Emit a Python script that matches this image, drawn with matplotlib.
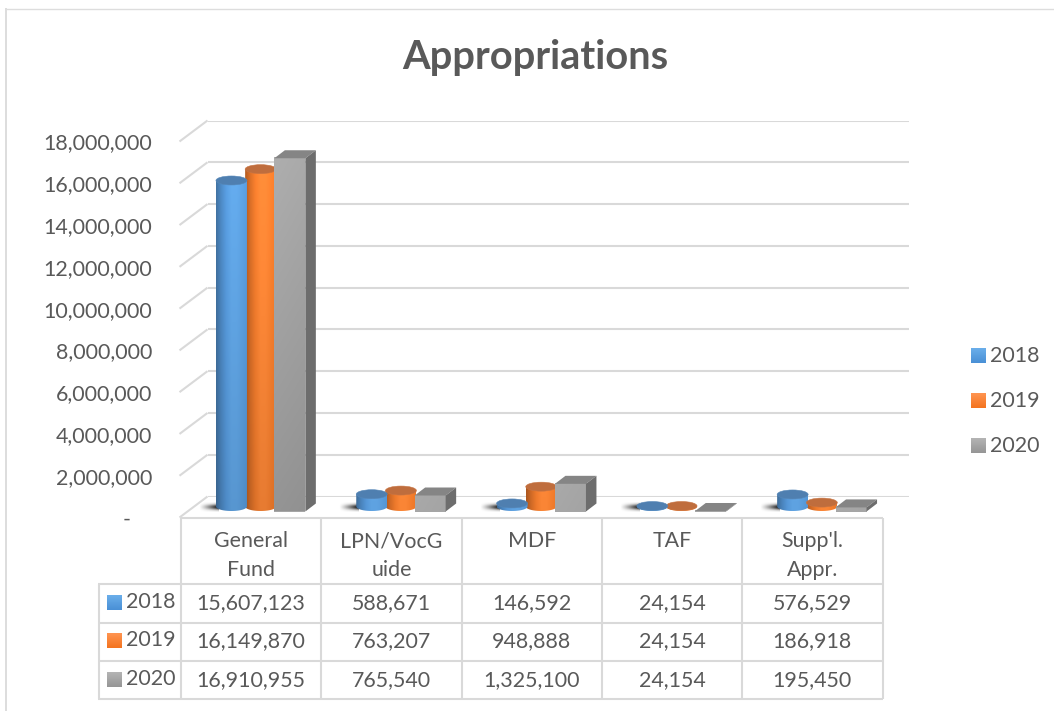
import numpy as np
import matplotlib
matplotlib.use('Agg')
import matplotlib.pyplot as plt
from matplotlib.patches import Ellipse, PathPatch, Polygon
from matplotlib.path import Path

plt.rcParams['font.family'] = ['Lato', 'DejaVu Sans']

# ── Data ──
categories = ['General\nFund', 'LPN/VocG\nuide', 'MDF', 'TAF', "Supp'l.\nAppr."]
years = ['2018', '2019', '2020']
vals_2018 = [15607123, 588671, 146592, 24154, 576529]
vals_2019 = [16149870, 763207, 948888, 24154, 186918]
vals_2020 = [16910955, 765540, 1325100, 24154, 195450]
y_ticks = [0, 2000000, 4000000, 6000000, 8000000, 10000000,
           12000000, 14000000, 16000000, 18000000]

# ── Layout, in pixels of the 1054x711 picture ──
W, H = 1054, 711
COL_L, COL_R = 181, 882.5
COL_W = (COL_R - COL_L) / 5
FLOOR_Y, TOP_Y = 517.5, 141.5     # front wall: value 0 and 18M
PX_PER_VAL = (FLOOR_Y - TOP_Y) / 18000000
RY = 4.5                          # cylinder ellipse half height
GRID = '#d9d9d9'
TXT = '#595959'
FS = 15.4


def make_axes(dx, floor_y):
    a = fig.add_axes([(COL_L + dx) / W, (H - floor_y) / H,
                      (COL_R - COL_L) / W, (FLOOR_Y - TOP_Y) / H])
    a.set_xlim(-0.5, 4.5)
    a.set_ylim(0, 18000000)
    a.patch.set_visible(False)
    for s in a.spines.values():
        s.set_visible(False)
    a.set_xticks([])
    a.tick_params(length=0)
    a.set_yticks([])
    return a


fig = plt.figure(figsize=(W / 100, H / 100), dpi=100)
fig.patch.set_facecolor('white')

# back wall, front wall, cylinders, boxes
ax_back = make_axes(26.5, 496.5)
ax_front = make_axes(0, FLOOR_Y)
ax_cyl = make_axes(9.5, 506.5)
ax_box = make_axes(9.5, 511.5)

ax_back.set_yticks(y_ticks)
ax_back.set_yticklabels([])
ax_back.grid(axis='y', color=GRID, linewidth=1.5)
ax_back.set_axisbelow(True)

tick_labels = [f'{v:,}' for v in y_ticks]
tick_labels[0] = '-    '
ax_front.set_yticks(y_ticks)
ax_front.set_yticklabels(tick_labels, fontsize=FS, color=TXT)
ax_front.tick_params(axis='y', pad=20.5)


def shade(profile, n=160, top=1.08, bot=0.96):
    # horizontal colour profile times a slow vertical fade
    prof = np.array([matplotlib.colors.to_rgb(c) for c in profile])
    xs = np.linspace(0, len(prof) - 1, 128)
    row = np.stack([np.interp(xs, np.arange(len(prof)), prof[:, k]) for k in range(3)], axis=1)
    fade = np.linspace(top, bot, n)[:, None, None]
    return np.clip(row[None, :, :] * fade, 0, 1)


def cylinder(ax, rect, profile, cap, rim):
    x0, w, h = rect.get_x(), rect.get_width(), rect.get_height()
    ry = RY / PX_PER_VAL
    t = np.linspace(np.pi, 2 * np.pi, 40)
    low_x = x0 + w / 2 + w / 2 * np.cos(t)
    low_y = ry * np.sin(t)
    verts = [(x0, h)] + list(zip(low_x, low_y)) + [(x0 + w, h), (x0, h)]
    clip = PathPatch(Path(verts), transform=ax.transData, facecolor='none', edgecolor='none')
    ax.add_patch(clip)
    # tall bars fade more than the short ones
    k = min(h / 16000000, 1)
    im = ax.imshow(shade(profile, top=1 + 0.06 * k, bot=1 - 0.08 * k), extent=(x0, x0 + w, -ry, h),
                   origin='upper', aspect='auto', zorder=3)
    im.set_clip_path(clip)
    im.set_clip_box(fig.bbox)
    ax.add_patch(Ellipse((x0 + w / 2, h), w, 2 * ry, facecolor=cap, edgecolor=rim,
                         linewidth=0.4, zorder=4, clip_on=False))


BLUE = ['#3e6c99', '#4a84bd', '#5597d8', '#5fa3e2', '#5fa3e2', '#5a9ddc', '#5496d6']
ORANGE = ['#a9561f', '#d06a26', '#ee7a2c', '#fb8636', '#fb8636', '#f47e2e', '#ee7828']
BOX_W = 31 / COL_W
STEP = 29.2 / COL_W
pos = np.arange(len(categories))

# orange first so the blue and gray ones sit in front of it
bars_2019 = ax_cyl.bar(pos, vals_2019, BOX_W, color='#ed7d31', linewidth=0, zorder=1)
bars_2018 = ax_cyl.bar(pos - STEP, vals_2018, BOX_W, color='#5b9bd5', linewidth=0, zorder=1)
for r in bars_2019:
    r.set_visible(False)
    cylinder(ax_cyl, r, ORANGE, '#bf6d3d', '#c87544')
for r in bars_2018:
    r.set_visible(False)
    cylinder(ax_cyl, r, BLUE, '#4f7fb0', '#5687b8')

bars_2020 = ax_box.bar(pos + STEP, vals_2020, BOX_W, color='#a5a5a5', linewidth=0, zorder=1)
DX = 10.5 / COL_W
DY = 8 / PX_PER_VAL
for r in bars_2020:
    x0, w, h = r.get_x(), r.get_width(), r.get_height()
    k = min(h / 16000000, 1)
    ax_box.imshow(shade(['#a9a9a9', '#a5a5a5'], top=1 + 0.03 * k, bot=1 - 0.12 * k),
                  extent=(x0, x0 + w, 0, h), origin='upper', aspect='auto', zorder=2)
    ax_box.add_patch(Polygon([(x0, h), (x0 + w, h), (x0 + w + DX, h + DY), (x0 + DX, h + DY)],
                             facecolor='#858585', edgecolor='none', zorder=3, clip_on=False))
    ax_box.add_patch(Polygon([(x0 + w, 0), (x0 + w + DX, DY), (x0 + w + DX, h + DY), (x0 + w, h)],
                             facecolor='#6d6d6d', edgecolor='none', zorder=3, clip_on=False))
for a in (ax_cyl, ax_box):
    a.set_xlim(-0.5, 4.5)
    a.set_ylim(0, 18000000)

# ── Overlay in picture pixels: frame, title, table, legend ──
ov = fig.add_axes([0, 0, 1, 1], zorder=-1)
ov.axis('off')
top = fig.add_axes([0, 0, 1, 1], zorder=10)
top.axis('off')
top.patch.set_visible(False)


def pline(xs, ys, color=GRID, lw=1.5, a=top):
    a.plot(xs, ys, color=color, linewidth=lw, solid_capstyle='butt', clip_on=False)


# chart frame
pline([5, 1054], [8.5, 8.5], color='#dddddd', lw=1.0, a=ov)
pline([6, 6], [8, 711], color='#dddddd', lw=1.4, a=ov)

# diagonals that join the front and back wall
for v in y_ticks:
    fy = FLOOR_Y - v * PX_PER_VAL
    pline([COL_L - 1.5, COL_L + 26.5], [fy, fy - 21], a=ov)

# floor shadows left of each group
shadow = np.zeros((11, 40, 4))
ramp = np.linspace(0, 1.0, 40) ** 1.2
shadow[:, :, 3] = ramp * np.exp(-((np.arange(11) - 5) / 3.0) ** 2)[:, None]
for i in range(len(categories)):
    sx = COL_L + 9.5 + COL_W * (i + 0.5) - 29.2 - 15.5
    ov.imshow(shadow, extent=(sx - 17, sx + 3, 512, 502), aspect='auto', zorder=1)

fig.text(535 / W, 1 - 58 / H, 'Appropriations', ha='center', va='center', fontsize=28.7,
         fontweight='bold', color=TXT)

# data table
ROWS = [584, 622.5, 661, 699]
col_x = [COL_L + COL_W * i for i in range(6)]
pline([COL_L, COL_R], [FLOOR_Y, FLOOR_Y])
for ry in ROWS:
    pline([98, COL_R], [ry, ry])
pline([98.5, 98.5], [ROWS[0], ROWS[-1]])
for cx in col_x:
    pline([cx, cx], [FLOOR_Y, ROWS[-1]])

for i, name in enumerate(categories):
    cx = col_x[i] + COL_W / 2
    for k, part in enumerate(name.split('\n')):
        top.text(cx, 541 + 29 * k, part, ha='center', va='center', fontsize=FS, color=TXT)

SW_COL = [('#6aaeea', '#4a90d6'), ('#ff9450', '#f47420'), ('#b4b4b4', '#969696')]


def swatch(x, y, pair):
    c0 = np.array(matplotlib.colors.to_rgb(pair[0]))
    c1 = np.array(matplotlib.colors.to_rgb(pair[1]))
    t = np.linspace(0, 1, 16)[:, None, None]
    img = c0[None, None, :] * (1 - t) + c1[None, None, :] * t
    top.imshow(img, extent=(x, x + 14.5, y + 14.5, y), aspect='auto', origin='upper')


row_y = [603, 641, 680]
series = [vals_2018, vals_2019, vals_2020]
for j, yr in enumerate(years):
    swatch(107, row_y[j] - 7.5, SW_COL[j])
    top.text(126, row_y[j] - 1, yr, ha='left', va='center', fontsize=FS, color=TXT)
    for i, v in enumerate(series[j]):
        top.text(col_x[i] + COL_W / 2, row_y[j], f'{v:,}', ha='center', va='center',
                 fontsize=FS, color=TXT)

# legend
leg_y = [356, 401, 446]
for j, yr in enumerate(years):
    swatch(970.5, leg_y[j] - 7.5, SW_COL[j])
    top.text(990, leg_y[j], yr, ha='left', va='center', fontsize=FS, color=TXT)

for a in (ov, top):
    a.set_xlim(0, W)
    a.set_ylim(H, 0)

fig.savefig('out.png', dpi=100, facecolor='white')
plt.close()
